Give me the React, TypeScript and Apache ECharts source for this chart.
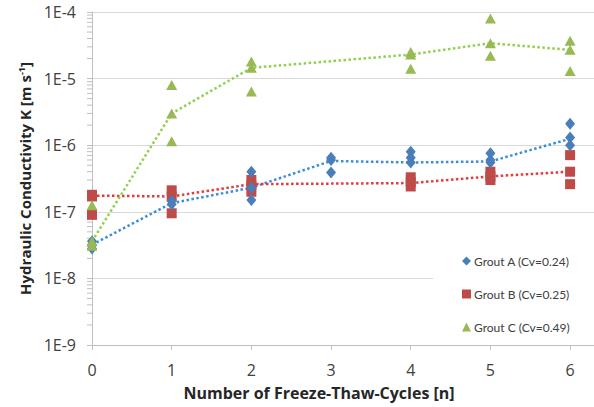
import React, { useEffect, useRef } from "react";
import * as echarts from "echarts";

// Freeze-thaw cycles (x) and hydraulic conductivity K [m/s] (y), per measured specimen
const groutA_x = [0, 0, 0, 1, 1, 2, 2, 2, 3, 3, 3, 4, 4, 4, 5, 5, 5, 6, 6, 6];
const groutA_K = [3.6e-8, 3.2e-8, 2.8e-8, 1.45e-7, 1.3e-7, 4.0e-7, 2.3e-7, 1.5e-7, 6.5e-7, 6.0e-7, 3.9e-7, 8.0e-7, 6.5e-7, 5.5e-7, 7.6e-7, 6.0e-7, 5.5e-7, 2.1e-6, 1.3e-6, 1.0e-6];

const groutB_x = [0, 0, 0, 1, 1, 1, 2, 2, 2, 4, 4, 4, 5, 5, 5, 6, 6, 6];
const groutB_K = [1.8e-7, 1.7e-7, 9.0e-8, 2.1e-7, 1.7e-7, 9.5e-8, 3.0e-7, 2.5e-7, 2.0e-7, 3.3e-7, 2.8e-7, 2.4e-7, 4.0e-7, 3.4e-7, 3.0e-7, 7.1e-7, 4.0e-7, 2.6e-7];

const groutC_x = [0, 0, 0, 1, 1, 1, 2, 2, 2, 4, 4, 4, 5, 5, 5, 6, 6, 6];
const groutC_K = [1.25e-7, 3.6e-8, 3.1e-8, 8.0e-6, 3.0e-6, 1.15e-6, 1.8e-5, 1.45e-5, 6.4e-6, 2.5e-5, 2.3e-5, 1.4e-5, 8.0e-5, 3.4e-5, 2.2e-5, 3.7e-5, 2.7e-5, 1.3e-5];

// Dotted trend lines (through the middle value of each cycle count)
const trendA_x = [0, 1, 2, 3, 4, 5, 6];
const trendA_K = [3.2e-8, 1.35e-7, 2.3e-7, 5.8e-7, 5.5e-7, 5.7e-7, 1.25e-6];
const trendB_x = [0, 1, 2, 4, 5, 6];
const trendB_K = [1.75e-7, 1.7e-7, 2.6e-7, 2.7e-7, 3.4e-7, 4.0e-7];
const trendC_x = [0, 1, 2, 4, 5, 6];
const trendC_K = [3.6e-8, 3.0e-6, 1.45e-5, 2.3e-5, 3.4e-5, 2.7e-5];

const seriesNames = ["Grout A (Cv=0.24)", "Grout B (Cv=0.25)", "Grout C (Cv=0.49)"];
const xTicks = [0, 1, 2, 3, 4, 5, 6];
const yDecades = [1e-9, 1e-8, 1e-7, 1e-6, 1e-5];
const minorMultipliers = [2, 3, 4, 5, 6, 7, 8, 9];

const zip = (xs: number[], ys: number[]) => xs.map((x, i) => [x, ys[i]]);

export default function App() {
  const ref = useRef<HTMLDivElement>(null);
  useEffect(() => {
    if (!ref.current) return;
    const chart = echarts.init(ref.current, undefined, { renderer: "svg" });
    const font = "'Open Sans', sans-serif";
    const legendFont = "Lato, 'Open Sans', sans-serif";
    const minorTicks: number[][] = [];
    yDecades.forEach((d) => minorMultipliers.forEach((m) => minorTicks.push([0, d * m])));
    const dotted = (color: string) => ({ color, width: 2.5, type: [2.5, 2.5] as any, cap: "butt" as any });
    chart.setOption({
      animation: false,
      backgroundColor: "#ffffff",
      textStyle: { fontFamily: font },
      grid: { left: 92, right: 0, top: 12, bottom: 62, containLabel: false },
      legend: {
        orient: "vertical",
        left: 433,
        top: 244,
        padding: [11, 30, 11, 29],
        backgroundColor: "#ffffff",
        itemWidth: 9,
        itemHeight: 9,
        itemGap: 21,
        textStyle: { fontFamily: legendFont, fontSize: 12, color: "#404040", padding: [0, 0, 0, -2] },
        data: [
          { name: seriesNames[0], icon: "diamond" },
          { name: seriesNames[1], icon: "rect" },
          { name: seriesNames[2], icon: "triangle" },
        ],
      },
      xAxis: {
        type: "value",
        min: 0,
        max: 6.3,
        interval: 1,
        name: "Number of Freeze-Thaw-Cycles [n]",
        nameLocation: "middle",
        nameGap: 40,
        nameTextStyle: { fontFamily: font, fontSize: 16, fontWeight: "bold", color: "#262626", padding: [0, 48, 0, 0] },
        axisLine: { lineStyle: { color: "#bfbfbf", width: 1 } },
        axisTick: { show: true, length: 5, lineStyle: { color: "#bfbfbf" }, customValues: xTicks },
        axisLabel: { fontSize: 16, color: "#404040", margin: 17, customValues: xTicks },
        splitLine: { show: false },
      },
      yAxis: {
        type: "log",
        logBase: 10,
        min: 1e-9,
        max: 1e-4,
        name: "{a|Hydraulic Conductivity K [m s}{s|-1}{a|]}",
        nameLocation: "middle",
        nameGap: 56,
        nameTextStyle: {
          rich: {
            a: { fontFamily: font, fontSize: 15, fontWeight: "bold", color: "#262626" },
            s: { fontFamily: font, fontSize: 9, fontWeight: "bold", color: "#262626", verticalAlign: "top", padding: [0, 0, 8, 0] },
          },
        },
        axisLine: { show: true, lineStyle: { color: "#bfbfbf", width: 1 } },
        axisTick: { show: true, length: 5, lineStyle: { color: "#bfbfbf" } },
        axisLabel: {
          fontSize: 16,
          color: "#404040",
          margin: 16,
          formatter: (v: number) => "1E" + Math.round(Math.log10(v)),
        },
        splitLine: { show: true, lineStyle: { color: "#d9d9d9", width: 1 } },
      },
      series: [
        {
          type: "custom",
          name: "minor",
          silent: true,
          clip: false,
          z: 1,
          data: minorTicks,
          renderItem: (params: any, api: any) => {
            const p = api.coord([0, api.value(1)]);
            return {
              type: "line",
              shape: { x1: p[0] - 5, y1: p[1], x2: p[0], y2: p[1] },
              style: { stroke: "#bfbfbf", lineWidth: 1 },
            };
          },
        },
        { type: "line", name: "trendA", data: zip(trendA_x, trendA_K), showSymbol: false, lineStyle: dotted("#3a8ddc"), z: 2, silent: true },
        { type: "line", name: "trendB", data: zip(trendB_x, trendB_K), showSymbol: false, lineStyle: dotted("#e23b3b"), z: 2, silent: true },
        { type: "line", name: "trendC", data: zip(trendC_x, trendC_K), showSymbol: false, lineStyle: dotted("#92d050"), z: 2, silent: true },
        { type: "scatter", name: seriesNames[1], data: zip(groutB_x, groutB_K), symbol: "rect", symbolSize: 10, itemStyle: { color: "#be4b48", opacity: 1 }, z: 3 },
        { type: "scatter", name: seriesNames[0], data: zip(groutA_x, groutA_K), symbol: "diamond", symbolSize: [10, 12], itemStyle: { color: "#4a7ebb", opacity: 1 }, z: 4 },
        { type: "scatter", name: seriesNames[2], data: zip(groutC_x, groutC_K), symbol: "triangle", symbolSize: [11, 10], itemStyle: { color: "#98b954", opacity: 1 }, z: 5 },
      ],
    });
    return () => chart.dispose();
  }, []);
  return <div ref={ref} style={{ width: 594, height: 407, position: "absolute", left: 0, top: 0 }} />;
}
